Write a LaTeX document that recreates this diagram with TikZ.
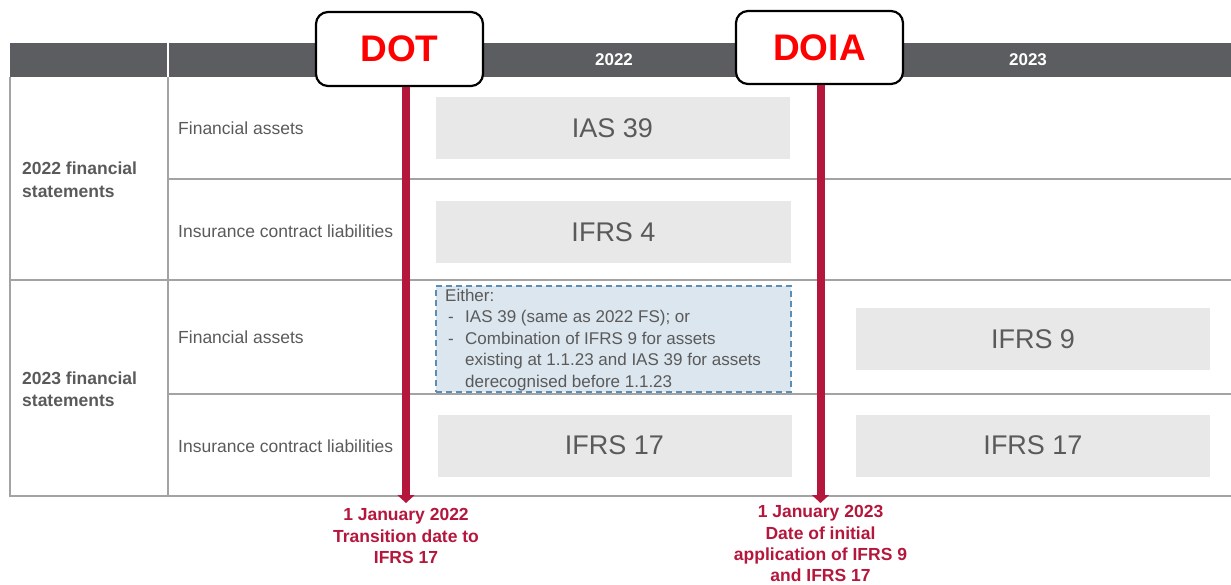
\documentclass[tikz,border=0pt]{standalone}
\usepackage{fontspec}
\setmainfont{Liberation Sans}
\usetikzlibrary{arrows.meta}
\definecolor{hdrgray}{HTML}{5B5D60}
\definecolor{gridgray}{HTML}{A3A3A3}
\definecolor{boxgray}{HTML}{E8E8E8}
\definecolor{txtgray}{HTML}{5A5A5A}
\definecolor{crimson}{HTML}{B5173C}
\definecolor{paleblue}{HTML}{DCE6EE}
\definecolor{dashblue}{HTML}{5B8DB5}
\definecolor{flagred}{HTML}{FF0000}
\tikzset{
  gridline/.style={draw=gridgray, line width=2pt},
  stdbox/.style={fill=boxgray, inner sep=0pt, text=txtgray,
    font=\fontsize{27}{30}\selectfont},
  rowlabel/.style={anchor=west, inner sep=0pt, text=txtgray,
    font=\fontsize{17.5}{21}\selectfont},
  grouplabel/.style={anchor=west, inner sep=0pt, text=txtgray, align=left,
    font=\fontsize{17.5}{22.5}\selectfont\bfseries},
  yearlabel/.style={inner sep=0pt, text=white,
    font=\fontsize{17}{20}\selectfont\bfseries},
  flag/.style={draw=black, line width=2.2pt, rounded corners=12pt, fill=white,
    inner sep=0pt, text=flagred, font=\fontsize{37}{40}\selectfont\bfseries},
  dateline/.style={draw=crimson, line width=8pt,
    -{Triangle[width=17pt,length=8pt]}},
  datelabel/.style={anchor=north, inner sep=0pt, align=center, text=crimson,
    font=\fontsize{17.5}{21.3}\selectfont\bfseries},
  optionbox/.style={fill=paleblue, draw=dashblue, line width=1.6pt,
    dash pattern=on 6pt off 4pt, inner sep=0pt, anchor=north west},
}
\newcommand{\bulletdash}{\hspace*{3pt}\makebox[17pt][l]{-}}
\begin{document}
\begin{tikzpicture}[x=1pt, y=-1pt]
\useasboundingbox (0,0) rectangle (1231,585);

% header bar
\fill[hdrgray] (10,43) rectangle (1231,77);
\draw[white, line width=1.5pt] (168,43) -- (168,77);
\node[yearlabel] (y22) at (614,60) {2022};
\node[yearlabel] (y23) at (1028,60) {2023};

% table grid
\draw[gridline] (10,77) -- (10,496) -- (1231,496);
\draw[gridline] (168,77) -- (168,496);
\draw[gridline] (168,179) -- (1231,179);
\draw[gridline] (10,280) -- (1231,280);
\draw[gridline] (168,394) -- (1231,394);

% row labels
\node[grouplabel] (fs22) at (22,179.5) {2022 financial\\statements};
\node[grouplabel] (fs23) at (22,389) {2023 financial\\statements};
\node[rowlabel] (fa22) at (178,128) {Financial assets};
\node[rowlabel] (icl22) at (178,231) {Insurance contract liabilities};
\node[rowlabel] (fa23) at (178,337.5) {Financial assets};
\node[rowlabel] (icl23) at (178,446) {Insurance contract liabilities};

% standards applied
\node[stdbox, minimum width=354pt, minimum height=62pt] (ias39) at (612.5,128) {IAS 39};
\node[stdbox, minimum width=355pt, minimum height=62pt] (ifrs4) at (613.5,232.5) {IFRS 4};
\node[stdbox, minimum width=354pt, minimum height=62pt] (ifrs17a) at (614.5,445.5) {IFRS 17};
\node[stdbox, minimum width=354pt, minimum height=62pt] (ifrs9) at (1033,339) {IFRS 9};
\node[stdbox, minimum width=354pt, minimum height=62pt] (ifrs17b) at (1033,445.5) {IFRS 17};

% choice for 2023 comparatives
\node[optionbox, minimum width=355pt, minimum height=106pt] (either) at (435,285) {};
\node[anchor=north west, inner sep=0pt, align=left, text=txtgray,
  font=\fontsize{17}{21.5}\selectfont] (eithertext) at (445,288.5)
  {Either:\\
   \bulletdash IAS 39 (same as 2022 FS); or\\
   \bulletdash Combination of IFRS 9 for assets\\
   \hspace*{20pt}existing at 1.1.23 and IAS 39 for assets\\
   \hspace*{20pt}derecognised before 1.1.23};

% key dates
\coordinate (dotend) at (406,503);
\coordinate (doiaend) at (820.5,503);
\node[flag, minimum width=167pt, minimum height=74pt] (dot) at (399.5,49) {DOT};
\node[flag, minimum width=167pt, minimum height=73pt] (doia) at (819.5,47.5) {DOIA};
\draw[dateline] (dot.south -| dotend) -- (dotend);
\draw[dateline] (doia.south -| doiaend) -- (doiaend);

\node[datelabel] (dotlabel) at (406,508.5) {1 January 2022\\Transition date to\\IFRS 17};
\node[datelabel] (doialabel) at (820.5,505.5) {1 January 2023\\Date of initial\\application of IFRS 9\\and IFRS 17};
\end{tikzpicture}
\end{document}
